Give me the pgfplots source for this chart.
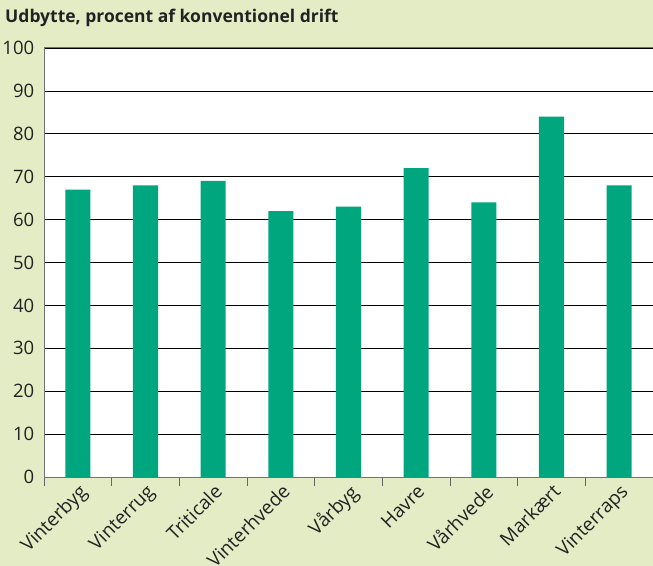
\documentclass[border=0pt]{standalone}
\usepackage{fontspec}
\setmainfont{Open Sans}
\usepackage{pgfplots}
\pgfplotsset{compat=1.18}
\definecolor{bg}{HTML}{E3ECC5}
\definecolor{bar}{HTML}{00A77E}
\definecolor{txt}{HTML}{222222}
\begin{document}
\begin{tikzpicture}
\useasboundingbox (0bp,0bp) rectangle (653bp,566bp);
\fill[bg] (0bp,0bp) rectangle (653bp,566bp);
\node[anchor=base west, font=\fontsize{17.5bp}{20bp}\selectfont\bfseries, text=txt, inner sep=0pt] at (5bp,543bp) {Udbytte, procent af konventionel drift};
\begin{axis}[
  at={(44bp,89bp)}, anchor=south west,
  scale only axis, width=609bp, height=429bp,
  xmin=-0.5, xmax=8.5, ymin=0, ymax=100,
  axis background/.style={fill=white},
  axis x line*=bottom, axis y line*=left,
  axis line style={draw=black!55, line width=1bp},
  xtick={0,...,8},
  xticklabels={Vinterbyg,Vinterrug,Triticale,Vinterhvede,Vårbyg,Havre,Vårhvede,Markært,Vinterraps},
  major x tick style={draw=none},
  minor xtick={-0.5,0.5,...,8.5},
  minor x tick style={draw=black!60, line width=1bp},
  minor tick length=9bp,
  tick align=outside,
  xticklabel style={rotate=45, anchor=north east, font=\fontsize{19bp}{21bp}\selectfont, text=txt, inner sep=1bp},
  ytick={0,10,...,100},
  major y tick style={draw=none},
  yticklabel style={font=\fontsize{18.5bp}{20bp}\selectfont, text=txt, xshift=-2bp},
  /pgf/number format/assume math mode=true,
  ymajorgrids, grid style={draw=black, line width=0.7bp},
  clip=false,
]
\addplot[ybar, bar width=0.37, fill=bar, draw=none] coordinates {
(0,67) (1,68) (2,69) (3,62) (4,63) (5,72) (6,64) (7,84) (8,68)};
\draw[black!55, line width=1bp] (axis cs:-0.5,100) -- (axis cs:8.5,100);
\end{axis}
\end{tikzpicture}
\end{document}
